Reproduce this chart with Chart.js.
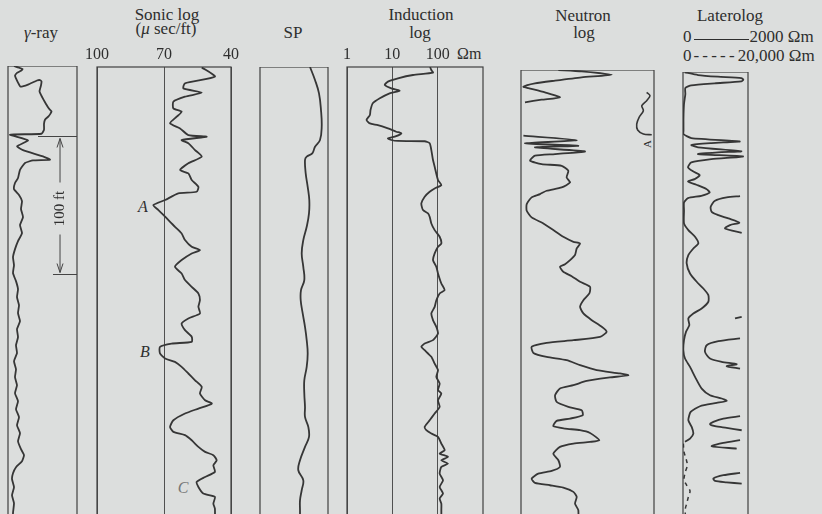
<!DOCTYPE html>
<html><head><meta charset="utf-8">
<script src="https://cdn.jsdelivr.net/npm/chart.js@4.4.1/dist/chart.umd.min.js"></script>
<style>
html,body{margin:0;padding:0;background:#dcdedd;width:822px;height:514px;overflow:hidden;}
body{position:relative;font-family:"Liberation Serif","DejaVu Serif",serif;color:#2e2e2e;}
.t{position:absolute;white-space:nowrap;font-size:17px;line-height:1;transform:translate(-50%,-50%);}
.l{position:absolute;white-space:nowrap;font-size:17px;line-height:1;}
.sl{display:inline-block;width:55px;height:1px;border-bottom:1.4px solid #2e2e2e;margin:0 1px 0 2px;vertical-align:2px;}
.dl{letter-spacing:3.2px;margin-left:2px;}
canvas{position:absolute;}
</style></head><body>
<div class="t" style="left:41px;top:32px"><i>γ</i>-ray</div>
<div class="t" style="left:167px;top:14px">Sonic log</div>
<div class="t" style="left:166px;top:28px">(<i>μ</i> sec/ft)</div>
<div class="t" style="left:293px;top:32px">SP</div>
<div class="t" style="left:421px;top:14px">Induction</div>
<div class="t" style="left:420px;top:32px">log</div>
<div class="l" style="left:457px;top:46px;font-size:16px">Ωm</div>
<div class="t" style="left:583px;top:15px">Neutron</div>
<div class="t" style="left:584px;top:32px">log</div>
<div class="t" style="left:730px;top:15px">Laterolog</div>
<div class="l" style="left:683px;top:28px">0<span class="sl"></span>2000 Ωm</div>
<div class="l" style="left:683px;top:47px">0<span class="dl">-----</span>20,000 Ωm</div>
<div class="t" style="left:143px;top:207px;font-size:16px"><i>A</i></div>
<div class="t" style="left:145px;top:352px;font-size:16px"><i>B</i></div>
<div class="t" style="left:183px;top:488px;font-size:16px;color:#777"><i>C</i></div>
<div class="t" style="left:647px;top:144px;font-size:11px;transform:translate(-50%,-50%) rotate(-90deg)">A</div>
<script>
// ---------- data (depth in ft from top of each track) ----------
const gammaDepth = [0,1.2,2.2,3.5,5,7,9,12,15,13.5,10.5,10.2,11.1,14,18.3,21,24.4,27.5,30.5,32.9,34.5,36.5,38.9,42,46.2,49.1,49.8,53.9,58.2,61,65.5,67.9,68.4,70.3,75.2,81.2,84.8,89.2,
  93.5,97.9,103.7,109.5,115.3,121.1,126.9,132.7,138.5,144.3,150.1,155.9,161.7,167.5,173.3,179.1,184.9,190.7,196.5,202.3,208.1,213.9,219.7,225.5,231.3,237.1,242.9,248.7,254.5,260.3,266.1,271.9,277.7,282,286.4,290.7,295.1,299.4,305.2,311,316.8,324,333];
const gammaApi = [12,22,29,26,18,14,16,20,25,40,58,64,67,66,63,66,71,76,81,87,85,81,74,72,72,67,4,40,18,30,70,84,50,34,24,20,14,12,
  22,28,26,30,24,28,20,14,10,12,10,16,20,18,22,20,24,18,20,16,18,12,16,14,18,14,20,16,22,18,24,20,26,32,28,16,10,8,12,8,12,10,10];

const sonicDepth = [0.3,7.0,11.8,15.5,18.6,21.5,25.1,30,32.4,36,40.8,44.5,49.3,50.5,52.9,55.3,60.2,65,69.8,74.7,77.1,81.9,86.8,90.4,91.6,96.4,100.1,103.7,108.5,113.4,115.8,120.6,125.4,130.3,132.7,135.1,139.9,144.8,149.6,154.4,159.3,164.1,168.9,173.8,178.6,182.2,185.9,190.7,195.5,199.2,200.4,202.8,207.6,211.2,213.7,217.3,222.1,227,231.8,236.6,241.5,243.9,247.5,251.1,256,260.8,264.4,266.8,270.5,275.3,278.9,281.3,285,288.6,293.4,297.1,300.7,304.3,309.1,311.5,316.4,320,333];
const sonicDt = [53.1,47.2,60.6,61.3,53.1,60.6,65.8,65.8,62.1,64.3,67.3,62.8,59.1,50.9,62.1,59.1,56.1,53.1,59.1,62.8,59.1,57.6,54.6,55.4,63.6,69.5,74.8,72.5,69.5,66.6,65.1,62.1,60.6,57.6,53.9,57.6,62.1,65.1,62.1,60.6,57.6,54.6,53.9,54.6,53.9,59.1,62.1,60.6,57.6,57.6,66.6,71.8,71.8,69.5,65.1,62.1,59.1,56.1,53.1,53.9,51.6,48.6,54.6,60.6,65.8,67.3,65.8,60.6,57.6,54.6,51.6,47.9,46.4,47.9,47.2,51.6,55.4,54.6,52.4,47.2,47.9,47.2,47.2];
const sonicTicks = [100,70,40];

const spDepth = [0,9.4,19.1,31.2,43.3,52.9,57.8,62.6,65,67.4,77.1,86.8,96.4,106.1,115.8,125.4,135.1,144.8,154.4,161.7,169,178.6,188.3,197.9,207.6,217.3,227,236.6,246.3,253.5,260.8,268,275.3,285,292.2,299.5,306.7,314,321.2,333];
const spMv = [-18,-13,-9,-7,-6.3,-8,-13,-15.7,-21.3,-23,-22.3,-20.3,-18.7,-19,-21.3,-24.7,-26.3,-24.7,-23.7,-27,-27.3,-25.3,-23,-21.3,-20.3,-21.3,-23.7,-23.7,-23,-23,-19.7,-19,-23,-28,-29.7,-24.7,-26.3,-28,-28,-28];

const inductionDepth = [0,2.2,4.1,5.8,8.2,10.6,13,15.5,17.2,19.1,22.7,26.3,31.2,34.8,38.4,40.9,42.1,44.5,46.9,48.1,50.5,51.7,52.9,53.6,53.8,55.3,60.2,67.4,72.3,81.9,85.6,88,90.4,94,98.9,103.7,106.1,108.5,113.4,118.2,123,127.9,130.3,135.1,139.9,144.8,149.6,156.9,161.7,164.1,169,173.8,178.6,183.4,188.3,193.1,197.9,200.4,202.8,205.2,207.6,210,214.9,219.7,224.5,229.4,234.2,236.6,241.5,246.3,251.1,256,260.8,263.2,265.6,268,272.9,277.7,280.1,282.5,285,287.4,289.8,294.6,299.5,304.3,309.1,312.7,316.4,321.2,333];
const inductionOhm = [68,72.5,78.9,28.6,13.3,8.0,6.8,9.5,14.5,8.7,5.3,3.7,3.3,3.2,2.7,3.2,4.8,8.0,12.2,15.8,11.3,8.0,9.5,13.3,51.7,66.6,72.5,78.9,85.9,101.7,120.5,85.9,66.6,51.7,43.6,47.5,61.2,66.6,72.5,85.9,110.7,120.5,101.7,85.9,78.9,93.5,101.7,120.5,142.6,110.7,93.5,85.9,72.5,78.9,93.5,101.7,78.9,51.7,43.6,51.7,61.2,72.5,85.9,101.7,93.5,110.7,101.7,120.5,101.7,110.7,85.9,66.6,51.7,56.2,72.5,101.7,120.5,142.6,110.7,169,120.5,169,120.5,110.7,131.2,110.7,131.2,110.7,120.5,120.5,120.5];
const inductionTicks = [1,10,100];

const neutronDepth = [0,1,3.4,5.3,7.7,9.7,12.1,13.1,16.2,19.8,21.5,23.4,null,
  47.6,50.8,53.2,54.9,56.1,59,60.9,62.1,65.7,68.2,69.4,73,77.8,81.5,85.1,87.5,89.9,92.3,97.2,102,106.8,110.5,111.2,116,120.9,124.5,125.7,129.3,134.1,137.8,140.7,142.6,146.2,149.4,153.5,157.1,161.9,166.8,171.6,176.4,181.3,186.1,189.7,193.4,195.8,197.7,200.6,205,207.9,210.3,213.9,217.5,219.9,221.2,222.8,225.3,228.4,230.8,235.7,240.5,244.1,246.5,250.2,252.6,254.3,258.1,259.8,261,263,268.3,269.5,270.7,273.1,278,282.8,287.6,290.5,292.5,296.1,299.2,300.9,302.6,305.7,309.4,314.2,319,333];
const neutronCount = [28.1,45.6,68.2,45.6,25.6,10.5,1.8,5.5,18,29.3,15.5,3.0,null,
  1.8,41.9,3.0,43.1,10.5,48.1,25.6,10.5,6.8,15.5,30.6,35.6,34.3,36.9,30.6,19.3,14.3,8,4.3,4.3,8,15.5,16.8,24.3,31.8,39.4,44.4,41.9,40.6,36.9,33.1,29.3,31.8,38.1,44.4,51.9,51.4,46.9,44.4,46.9,53.2,60.7,64.4,59.4,39.4,19.3,8,9.3,19.3,34.3,44.4,56.9,74.5,80.7,66.9,49.4,39.4,29.3,25.6,26.8,35.6,45.6,46.4,36.9,26.8,24.3,33.1,44.4,51.9,58.9,51.9,39.4,29.3,24.3,28.1,29.3,23.1,13.0,8,10.5,21.8,31.8,39.4,41.9,40.6,43.1,43];
const neutronWrapDepth = [16.2,18.6,22.2,25.9,29.5,34.3,39.2,43.5,46.4,46.9];
const neutronWrapCount = [94.5,97,94.5,90.8,92,88.8,87,87.7,92,98.3];

const lateroDepth = [0.2,2.2,3.4,4.4,5.6,6.8,8.2,9.7,11.6,16,23.2,32.9,42.5,45,47.9,50.3,51.5,52.9,54.6,57.5,58.2,59.5,61.2,63.1,65.5,69.1,72,74.7,77.6,79.3,81.7,84.8,87.3,89.7,91.4,94.5,100.5,109.7,114.6,119.4,124.2,127.9,132.7,138.7,146,152,156.9,161.7,166.5,171.4,175,178.6,183.4,188.3,194.3,201.6,207.6,213.7,220.9,229.4,234.2,236.6,238.3,239.8,242.2,246.3,252.3,257.2,262,265.6,268];
const lateroOhm = [51,462,1077,1795,1857,1795,975,257,72,72,31,15,15,15,257,1744,872,257,462,1795,1077,462,1847,872,256,154,308,513,359,154,411,718,821,564,154,31,31,31,164,370,472,318,164,113,216,421,626,780,780,575,318,164,195,92,31,10.5,62,216,370,575,831,1190,1344,1036,523,236,164,267,318,216,62];
const lateroHighDepth = [89.9,90.9,93.3,97.6,101.3,103.7,106.1,109.2,110.9,113.4,116.5,null,
  177.4,178.6,null,
  193.1,195.1,198,202.8,207.6,210,211.7,213.2,214.9,null,
  249.4,251.1,253.5,255.2,256.7,257.9,259.6,null,
  266.8,268.8,271.2,272.9,null,
  290.5,292.2,294.6,296.3,297.3,298.3];
const lateroHighOhm = [1755,1344,985,852,883,1088,1396,1734,1447,1293,1806,null,
  1806,1601,null,
  1755,1088,729,677,831,1190,1652,1344,1755,null,
  1755,1242,934,831,985,1344,1806,null,
  1755,1242,883,1652,null,
  1755,1242,934,985,1344,1806];
const lateroDeepDepth = [269.3,275.3,280.1,285,289.8,295.3,299.5,303.6,307.9,312.8,316.4,321];
const lateroDeepOhm = [105,310,926,1336,721,310,1131,2157,1644,1131,721,700];

// ---------- helpers ----------
const INK = '#363636';
const PX_PER_FT = 1.38;
const TRACK_PX = 460;
const DEPTH_MAX = TRACK_PX / PX_PER_FT;
const SERIF = '"Liberation Serif", "DejaVu Serif", serif';

function segments(depths, values){
  const segs=[]; let cur=[];
  depths.forEach((d,i)=>{
    const v = values[i];
    if(d===null || v===null){ if(cur.length) segs.push(cur); cur=[]; }
    else cur.push({x:v, y:d});
  });
  if(cur.length) segs.push(cur);
  return segs;
}
function lines(depths, values, extra){
  return segments(depths, values).map(data => Object.assign({
    data, showLine:true, borderColor:INK, borderWidth:1.8, pointRadius:0,
    tension:0.25, fill:false
  }, extra||{}));
}
const framePlugin = {
  id:'frame',
  beforeDatasetsDraw(chart){
    const {ctx, chartArea:a} = chart;
    ctx.save(); ctx.strokeStyle = '#404040'; ctx.lineWidth = 1.2;
    ctx.strokeRect(a.left, a.top, a.right-a.left, a.bottom-a.top);
    ctx.restore();
  }
};
const scaleBarTopFt = 50.7, scaleBarLenFt = 100;
const scaleBarPlugin = {
  id:'scalebar',
  afterDatasetsDraw(chart){
    const {ctx, chartArea:a, scales:{y}} = chart;
    const w = a.right - a.left;
    const y1 = Math.round(y.getPixelForValue(scaleBarTopFt)) + 0.5;
    const y2 = Math.round(y.getPixelForValue(scaleBarTopFt + scaleBarLenFt)) + 0.5;
    const ax = a.left + 0.754*w;
    ctx.save();
    ctx.strokeStyle = '#444'; ctx.lineWidth = 1;
    ctx.beginPath();
    ctx.moveTo(a.left + 0.435*w, y1); ctx.lineTo(a.right, y1);
    ctx.moveTo(a.left + 0.652*w, y2); ctx.lineTo(a.right, y2);
    const mid = (y1+y2)/2 + 3;
    ctx.moveTo(ax, y1+2); ctx.lineTo(ax, mid-26);
    ctx.moveTo(ax, mid+26); ctx.lineTo(ax, y2-2);
    ctx.moveTo(ax-3, y1+11); ctx.lineTo(ax, y1+2); ctx.lineTo(ax+3, y1+11);
    ctx.moveTo(ax-3, y2-11); ctx.lineTo(ax, y2-2); ctx.lineTo(ax+3, y2-11);
    ctx.stroke();
    ctx.translate(ax, mid); ctx.rotate(-Math.PI/2);
    ctx.fillStyle = '#2e2e2e'; ctx.font = '15px ' + SERIF;
    ctx.textAlign = 'center'; ctx.textBaseline = 'middle';
    ctx.fillText('100 ft', 0, 0);
    ctx.restore();
  }
};

function track(left, right, top, xScales, datasets, withAxis, extraPlugins){
  const axisH = withAxis ? 30 : 0;
  const c = document.createElement('canvas');
  c.width = right - left + 40; c.height = TRACK_PX + axisH;
  c.style.left = (left-20)+'px'; c.style.top = (top-axisH)+'px';
  c.style.width = c.width+'px'; c.style.height = c.height+'px';
  document.body.appendChild(c);
  const scales = Object.assign({
    y:{type:'linear', display:false, reverse:true, min:0, max:DEPTH_MAX}
  }, xScales);
  new Chart(c, {
    type:'scatter',
    data:{datasets},
    options:{
      responsive:false, animation:false, devicePixelRatio:1, events:[],
      layout:{padding:{left:20,right:20,top:0,bottom:0}},
      plugins:{legend:{display:false}, tooltip:{enabled:false}},
      scales
    },
    plugins:[framePlugin].concat(extraPlugins||[])
  });
}
function tickAxis(type, min, max, ticks, reverse){
  return {
    type, position:'top', min, max, reverse:!!reverse,
    afterBuildTicks: s => { s.ticks = ticks.map(v => ({value:v})); },
    afterFit: s => { s.height = 30; },
    grid:{display:true, drawTicks:false, drawOnChartArea:true, color:'#505050', lineWidth:1},
    border:{display:false},
    ticks:{padding:3, color:'#2e2e2e', font:{family:SERIF, size:16}, maxRotation:0, autoSkip:false,
      callback: v => String(v)}
  };
}
const hidden = (min,max) => ({type:'linear', display:false, min, max});

// γ-ray
track(8, 77, 66, {x:hidden(0,138)}, lines(gammaDepth, gammaApi, {tension:0.15}), false, [scaleBarPlugin]);
// Sonic
track(97, 231, 67, {x:tickAxis('linear', 40, 100, sonicTicks, true)}, lines(sonicDepth, sonicDt, {tension:0.2}), true);
// SP
track(260, 328, 67, {x:hidden(-68,0)}, lines(spDepth, spMv, {tension:0.4}), false);
// Induction
track(347, 483, 67, {x:tickAxis('logarithmic', 1, 1000, inductionTicks, false)}, lines(inductionDepth, inductionOhm, {tension:0.2}), true);
// Neutron
track(521, 654, 70, {x:hidden(0,100)},
  lines(neutronDepth, neutronCount, {tension:0.2}).concat(lines(neutronWrapDepth, neutronWrapCount, {tension:0.3, borderWidth:1.6})), false);
// Laterolog
track(683, 748, 72, {x:hidden(0,2000), x2:hidden(0,20000)},
  lines(lateroDepth, lateroOhm, {tension:0.2})
    .concat(lines(lateroHighDepth, lateroHighOhm, {tension:0.25}))
    .concat(lines(lateroDeepDepth, lateroDeepOhm, {xAxisID:'x2', borderDash:[4,4], borderWidth:1.5, tension:0.3})), false);
</script>
</body></html>
